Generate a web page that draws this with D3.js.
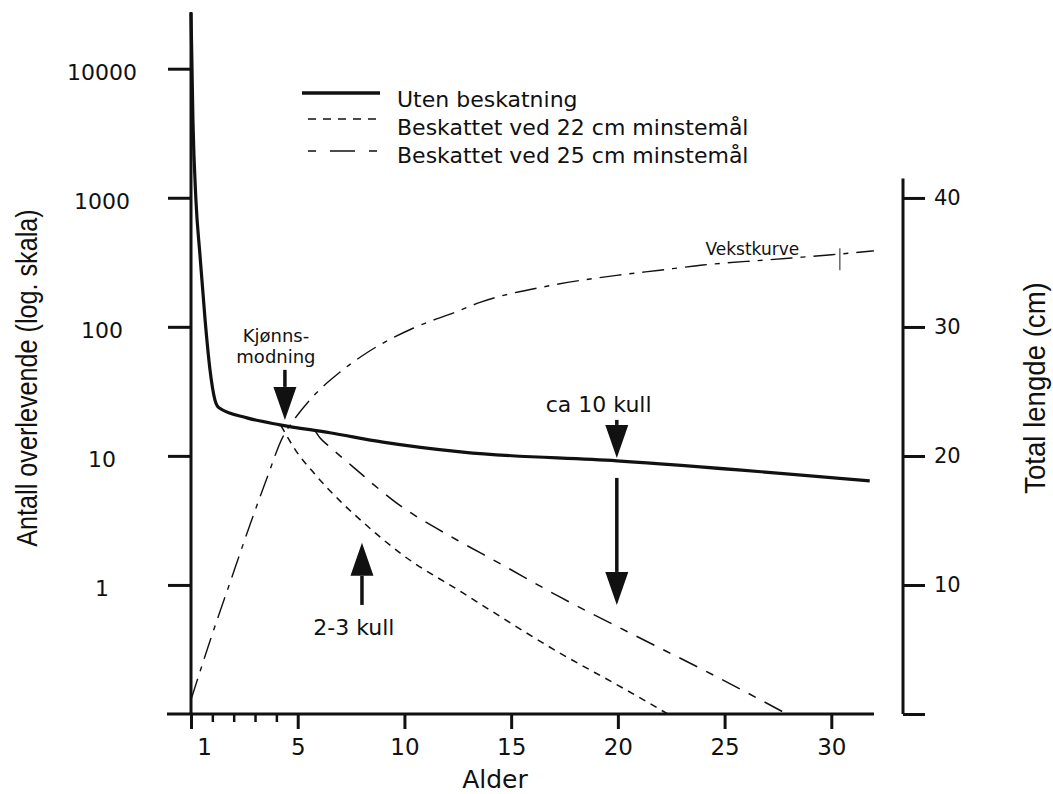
<!DOCTYPE html>
<html>
<head>
<meta charset="utf-8">
<script src="https://cdn.jsdelivr.net/npm/d3@7"></script>
<style>
body { margin: 0; background: #fff; }
text { font-family: "DejaVu Sans", sans-serif; fill: #111; }
.title { font-family: "Liberation Sans", Arial, sans-serif; }
</style>
</head>
<body>
<div id="visualization_container"></div>
<script>
// ages (x) and survivors (log scale)
var ageNoHarvest = [0, 0.09, 0.23, 0.42, 0.66, 0.89, 1.12, 1.31, 2.62, 4.17, 6.51, 8.99, 12.74, 19.95, 31.8];
var noHarvest = [27000, 4030, 965, 361, 113, 46.4, 27.2, 23.6, 19.7, 17.4, 15.1, 12.8, 10.7, 9.15, 6.4];

var age22 = [4.22, 4.96, 5.71, 6.98, 8.15, 9.79, 12.74, 17.28, 20.23, 22.34];
var harvest22 = [17.1, 10.7, 7.52, 4.48, 2.97, 1.77, 0.867, 0.297, 0.159, 0.1];

var age25 = [5.81, 6.04, 6.51, 7.59, 9.56, 12.46, 14.33, 17.28, 20.56, 24.64, 27.92];
var harvest25 = [15.7, 13.8, 11.7, 8.22, 4.40, 2.23, 1.51, 0.807, 0.425, 0.194, 0.1];

// growth curve, total length in cm (right axis)
var ageGrowth = [0, 0.89, 1.83, 2.76, 3.56, 4.31, 4.78, 5.71, 6.98, 8.24, 10.40, 12.46, 13.54, 16.8, 19.95, 21.97, 23.98, 26.98, 30.02, 32];
var growth = [1.1, 5.66, 10.2, 14.65, 18.3, 21.5, 22.7, 24.6, 26.5, 28.0, 29.9, 31.2, 31.9, 33.2, 34.0, 34.4, 34.8, 35.2, 35.6, 35.9];
var growthMark = {age: 30.4, from: 34.4, to: 36.1};

// axes
var xMajorTicks = [0, 5, 10, 15, 20, 25, 30];
var xMajorLabels = ["1", "5", "10", "15", "20", "25", "30"];
var xMinorTicks = [1, 2, 3, 4];
var yTicks = [1, 10, 100, 1000, 10000];
var lenTicks = [0, 10, 20, 30, 40];

var legendLabels = ["Uten beskatning", "Beskattet ved 22 cm minstemål", "Beskattet ved 25 cm minstemål"];

// annotations: arrows [age, tail value, tip value]
var arrows = [
    [4.40, 46.4, 19.0],
    [19.95, 19.0, 9.64],
    [19.95, 6.75, 0.70],
    [8.01, 0.70, 2.12]
];
var notes = [
    {age: 3.98, value: 76.6, lines: ["Kjønns-", "modning"], size: 18},
    {age: 19.1, value: 21.9, lines: ["ca 10 kull"], size: 22},
    {age: 7.63, value: 0.41, lines: ["2-3 kull"], size: 22}
];

var width = 1053;
var height = 794;

var svg = d3.select("#visualization_container")
    .append("svg")
    .attr("width", width)
    .attr("height", height);

var x = d3.scaleLinear().domain([0, 32]).range([191, 874]);
var y = d3.scaleLog().domain([0.1, 27500]).range([714, 12]);
var yLen = d3.scaleLinear().domain([0, 41.5]).range([714, 178.6]);

// x axis
var xAxis = svg.append("g")
    .attr("transform", "translate(0," + y(0.1) + ")")
    .call(d3.axisBottom(x).tickValues(xMajorTicks).tickSize(15).tickPadding(10)
        .tickFormat((d, i) => xMajorLabels[i]));
xAxis.select(".domain").remove();
xAxis.selectAll(".tick line").attr("stroke", "#111").attr("stroke-width", 3);
xAxis.selectAll(".tick text").style("font-size", "23px").attr("dx", (d, i) => i === 0 ? 13 : 0);
xAxis.append("line")
    .attr("x1", x(0) - 24).attr("x2", x.range()[1])
    .attr("stroke", "#111").attr("stroke-width", 3);

var xMinor = svg.append("g")
    .attr("transform", "translate(0," + y(0.1) + ")")
    .call(d3.axisBottom(x).tickValues(xMinorTicks).tickSize(8).tickFormat(""));
xMinor.select(".domain").remove();
xMinor.selectAll(".tick line").attr("stroke", "#111").attr("stroke-width", 2.5);

// left axis
var yAxis = svg.append("g")
    .attr("transform", "translate(" + x(0) + ",0)")
    .call(d3.axisLeft(y).tickValues(yTicks).tickSize(23).tickFormat(d3.format("d")));
yAxis.select(".domain").remove();
yAxis.selectAll(".tick line").attr("stroke", "#111").attr("stroke-width", 3);
yAxis.selectAll(".tick text")
    .attr("text-anchor", "middle").attr("x", -89).attr("dy", "0.5em")
    .style("font-size", "22px");
yAxis.append("line")
    .attr("y1", y.range()[0]).attr("y2", y.range()[1])
    .attr("stroke", "#111").attr("stroke-width", 3);

// right axis
var rAxis = svg.append("g")
    .attr("transform", "translate(903,0)")
    .call(d3.axisRight(yLen).tickValues(lenTicks).tickSize(22).tickPadding(9)
        .tickFormat(d => d === 0 ? "" : d));
rAxis.select(".domain").remove();
rAxis.selectAll(".tick line").attr("stroke", "#111").attr("stroke-width", 3);
rAxis.selectAll(".tick text").style("font-size", "21px");
rAxis.append("line")
    .attr("y1", yLen.range()[0]).attr("y2", yLen.range()[1])
    .attr("stroke", "#111").attr("stroke-width", 3);

// axis titles
svg.append("text").attr("class", "title")
    .attr("transform", "translate(37,378) rotate(-90) scale(0.84,1)")
    .attr("text-anchor", "middle")
    .style("font-size", "30px")
    .text("Antall overlevende (log. skala)");
svg.append("text").attr("class", "title")
    .attr("transform", "translate(1045,388) rotate(-90) scale(0.92,1)")
    .attr("text-anchor", "middle")
    .style("font-size", "30px")
    .text("Total lengde (cm)");
svg.append("text")
    .attr("x", 495).attr("y", 788)
    .attr("text-anchor", "middle")
    .style("font-size", "25px")
    .text("Alder");

// curves
var line = d3.line()
    .curve(d3.curveMonotoneX)
    .x(d => x(d[0]))
    .y(d => y(d[1]));
var lineLen = d3.line()
    .curve(d3.curveMonotoneX)
    .x(d => x(d[0]))
    .y(d => yLen(d[1]));

svg.append("path")
    .attr("d", lineLen(d3.zip(ageGrowth, growth)))
    .attr("fill", "none").attr("stroke", "#111")
    .attr("stroke-width", 1.4).attr("stroke-dasharray", "22,8,5,8");
svg.append("line")
    .attr("x1", x(growthMark.age)).attr("x2", x(growthMark.age))
    .attr("y1", yLen(growthMark.from)).attr("y2", yLen(growthMark.to))
    .attr("stroke", "#444").attr("stroke-width", 1.2);

svg.append("path")
    .attr("d", line(d3.zip(age22, harvest22)))
    .attr("fill", "none").attr("stroke", "#111")
    .attr("stroke-width", 1.5).attr("stroke-dasharray", "7,6");
svg.append("path")
    .attr("d", line(d3.zip(age25, harvest25)))
    .attr("fill", "none").attr("stroke", "#111")
    .attr("stroke-width", 1.5).attr("stroke-dasharray", "20,10,8,10");
svg.append("path")
    .attr("d", line(d3.zip(ageNoHarvest, noHarvest)))
    .attr("fill", "none").attr("stroke", "#111")
    .attr("stroke-width", 3.2).attr("stroke-linejoin", "round");

svg.append("text")
    .attr("x", x(26.3)).attr("y", yLen(35.6))
    .attr("text-anchor", "middle")
    .style("font-size", "17px")
    .text("Vekstkurve");

// arrows
arrows.forEach(function(a) {
    var ax = x(a[0]), y0 = y(a[1]), y1 = y(a[2]);
    var dir = y1 > y0 ? 1 : -1;
    var headLen = 33, half = 11.5;
    svg.append("line")
        .attr("x1", ax).attr("x2", ax)
        .attr("y1", y0).attr("y2", y1 - dir * headLen)
        .attr("stroke", "#111").attr("stroke-width", 3.5);
    svg.append("path")
        .attr("d", "M" + ax + "," + y1 +
            "L" + (ax - half) + "," + (y1 - dir * headLen) +
            "L" + (ax + half) + "," + (y1 - dir * headLen) + "Z")
        .attr("fill", "#111");
});

notes.forEach(function(n) {
    var t = svg.append("text")
        .attr("x", x(n.age)).attr("y", y(n.value))
        .attr("text-anchor", "middle")
        .style("font-size", n.size + "px");
    n.lines.forEach(function(l, i) {
        t.append("tspan").attr("x", x(n.age)).attr("dy", i === 0 ? 0 : 21).text(l);
    });
});

// legend
var dashes = [null, "8,7", "8,14,25,14"];
var widths = [3.5, 1.5, 1.5];
var legend = svg.append("g").attr("transform", "translate(302,93)");
legendLabels.forEach(function(lbl, i) {
    var ly = [0, 26, 58][i];
    legend.append("line")
        .attr("x1", i === 0 ? 0 : 6).attr("x2", 78)
        .attr("y1", ly).attr("y2", ly)
        .attr("stroke", "#111").attr("stroke-width", widths[i])
        .attr("stroke-dasharray", dashes[i]);
    legend.append("text")
        .attr("x", 95).attr("y", 14 + i * 28)
        .style("font-size", "22px")
        .text(lbl);
});
</script>
</body>
</html>
